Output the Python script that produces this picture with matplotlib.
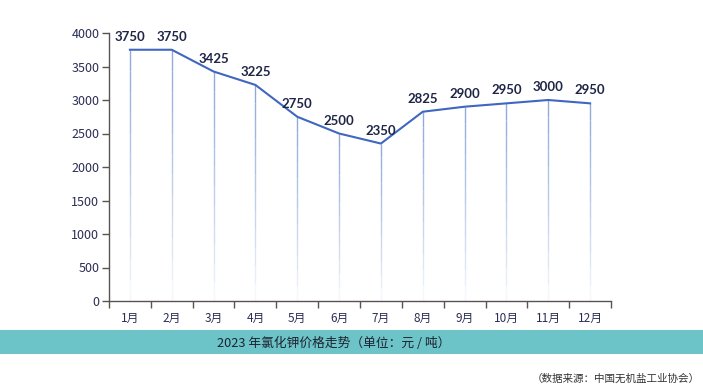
import matplotlib
matplotlib.use("Agg")
import matplotlib.pyplot as plt
import numpy as np
from matplotlib.collections import LineCollection
from matplotlib.patches import Rectangle

plt.rcParams['font.family'] = ['Noto Sans CJK SC', 'DejaVu Sans']

months = ['1月', '2月', '3月', '4月', '5月', '6月', '7月', '8月', '9月', '10月', '11月', '12月']
prices = [3750, 3750, 3425, 3225, 2750, 2500, 2350, 2825, 2900, 2950, 3000, 2950]
yticks = [0, 500, 1000, 1500, 2000, 2500, 3000, 3500, 4000]
title = '2023 年氯化钾价格走势（单位：元 / 吨）'
source = '（数据来源：中国无机盐工业协会）'

W, H = 703, 386
fig = plt.figure(figsize=(W / 100, H / 100), dpi=100)
ax = fig.add_axes([109 / W, 1 - 301 / H, (611 - 109) / W, (301 - 33) / H])

x = np.arange(len(months))
line_col = '#3f67c0'
drop_col = np.array([0x8f, 0xaa, 0xdc]) / 255

# drop lines with fade toward the bottom
nseg = 12
for xi, yi in zip(x, prices):
    ys = np.linspace(yi, 0, nseg + 1)
    segs = [[(xi, ys[k]), (xi, ys[k + 1])] for k in range(nseg)]
    alphas = np.linspace(1.0, 0.05, nseg) ** 0.8
    cols = [(*drop_col, a) for a in alphas]
    ax.add_collection(LineCollection(segs, colors=cols, linewidths=1.0,
                                     capstyle='butt', zorder=1))

ax.plot(x, prices, color=line_col, lw=1.5, zorder=3)

for xi, yi in zip(x, prices):
    ax.annotate(str(yi), (xi, yi), xytext=(0, 5), textcoords='offset points',
                ha='center', va='bottom', fontsize=9.5, fontweight='bold',
                color='#1f2547', family=['Lato', 'DejaVu Sans'])

ax.set_xlim(-0.5, len(months) - 0.5)
ax.set_ylim(0, 4000)
ax.set_yticks(yticks)
ax.set_yticklabels([str(v) for v in yticks], fontsize=9, color='#2b2d55')
ax.set_xticks(x)
ax.set_xticklabels(months, fontsize=8.5, color='#2b2d55')
ax.tick_params(axis='x', which='major', length=0, pad=8)
ax.set_xticks(np.arange(-0.5, len(months), 1.0), minor=True)
ax.tick_params(axis='x', which='minor', length=5, width=1, color='#5a5352', direction='out')
ax.tick_params(axis='y', length=5, width=1, color='#5a5352', pad=2)

for s in ['top', 'right']:
    ax.spines[s].set_visible(False)
for s in ['left', 'bottom']:
    ax.spines[s].set_color('#5a5352')
    ax.spines[s].set_linewidth(1.0)

# teal band with title
fig.patches.append(Rectangle((0, 1 - 354 / H), 1, 24 / H, transform=fig.transFigure,
                             facecolor='#6cc4c8', edgecolor='none', zorder=0))
fig.text(217 / W, 1 - 343 / H, title, ha='left', va='center', fontsize=9.2, color='#1e2230')
fig.text(700 / W, 1 - 379 / H, source, ha='right', va='center', fontsize=7.6, color='#333333')

fig.savefig('out.png', dpi=100)
